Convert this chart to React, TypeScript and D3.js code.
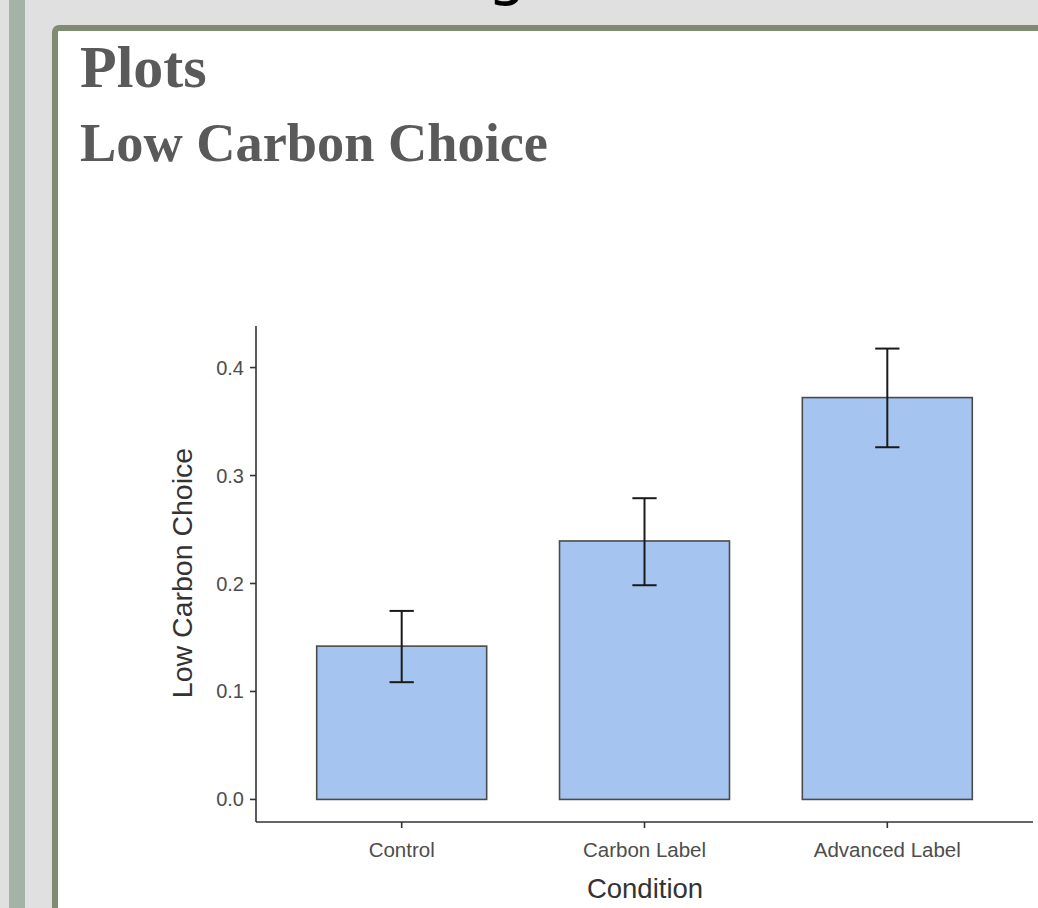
import React from "react";
import * as d3 from "d3";

const categories = ["Control", "Carbon Label", "Advanced Label"];
const means = [0.142, 0.2394, 0.3722];
const lower = [0.1086, 0.1984, 0.3262];
const upper = [0.1746, 0.279, 0.4176];
const yTicks = [0.0, 0.1, 0.2, 0.3, 0.4];

const W = 1038;
const H = 908;

export default function App() {
  const x = d3.scalePoint<string>().domain(categories).range([256, 1033]).padding(0.6);
  const step = x.step();
  const barW = step * 0.7;
  const capW = step * 0.1;
  const y = d3.scaleLinear().domain([-0.0209, 0.4385]).range([822, 326]);

  const sans = "'Liberation Sans', Arial, Helvetica, sans-serif";
  const serif = "'Liberation Serif', 'Times New Roman', serif";

  return (
    <div style={{ position: "absolute", left: 0, top: 0, width: W, height: H, overflow: "hidden" }}>
      <svg width={W} height={H} style={{ display: "block" }}>
        <rect x={0} y={0} width={W} height={H} fill="#e1e0e1" />
        <rect x={9} y={0} width={16} height={H} fill="#a3b4a6" />
        <text x={507} y={-7} textAnchor="middle" fontFamily="'DejaVu Sans', sans-serif" fontSize={62} fill="#000">g</text>
        <rect x={55} y={28} width={1100} height={1000} rx={4} fill="#ffffff" stroke="#7f8c71" strokeWidth={6} />

        <text x={80} y={87} fontFamily={serif} fontWeight="bold" fontSize={60} fill="#5a5a5a">Plots</text>
        <text x={80} y={161} fontFamily={serif} fontWeight="bold" fontSize={54} fill="#5a5a5a" textLength={468} lengthAdjust="spacingAndGlyphs">Low Carbon Choice</text>

        {/* bars */}
        {categories.map((c, i) => (
          <rect
            key={c}
            x={(x(c) as number) - barW / 2}
            y={y(means[i])}
            width={barW}
            height={y(0) - y(means[i])}
            fill="#a6c4f0"
            stroke="#4a4a4a"
            strokeWidth={1.6}
          />
        ))}

        {/* error bars */}
        {categories.map((c, i) => {
          const cx = x(c) as number;
          return (
            <g key={c + "e"} stroke="#1a1a1a" strokeWidth={2}>
              <line x1={cx} x2={cx} y1={y(upper[i])} y2={y(lower[i])} />
              <line x1={cx - capW / 2} x2={cx + capW / 2} y1={y(upper[i])} y2={y(upper[i])} />
              <line x1={cx - capW / 2} x2={cx + capW / 2} y1={y(lower[i])} y2={y(lower[i])} />
            </g>
          );
        })}

        {/* axes */}
        <line x1={256} x2={256} y1={326} y2={822} stroke="#333" strokeWidth={1.6} />
        <line x1={256} x2={1033} y1={822} y2={822} stroke="#333" strokeWidth={1.6} />
        {yTicks.map((t) => (
          <g key={t}>
            <line x1={250} x2={256} y1={y(t)} y2={y(t)} stroke="#333" strokeWidth={1.6} />
            <text x={244} y={y(t)} dy="0.35em" textAnchor="end" fontFamily={sans} fontSize={20} fill="#4d4d4d">
              {d3.format(".1f")(t)}
            </text>
          </g>
        ))}
        {categories.map((c) => (
          <g key={c + "t"}>
            <line x1={x(c) as number} x2={x(c) as number} y1={822} y2={828} stroke="#333" strokeWidth={1.6} />
            <text x={x(c) as number} y={857} textAnchor="middle" fontFamily={sans} fontSize={20.5} fill="#4d4d4d">
              {c}
            </text>
          </g>
        ))}
        <text x={645} y={898} textAnchor="middle" fontFamily={sans} fontSize={27.5} fill="#333">Condition</text>
        <text
          transform={`translate(192, 573) rotate(-90)`}
          textAnchor="middle"
          fontFamily={sans}
          fontSize={28.5}
          fill="#333"
        >
          Low Carbon Choice
        </text>
      </svg>
    </div>
  );
}
